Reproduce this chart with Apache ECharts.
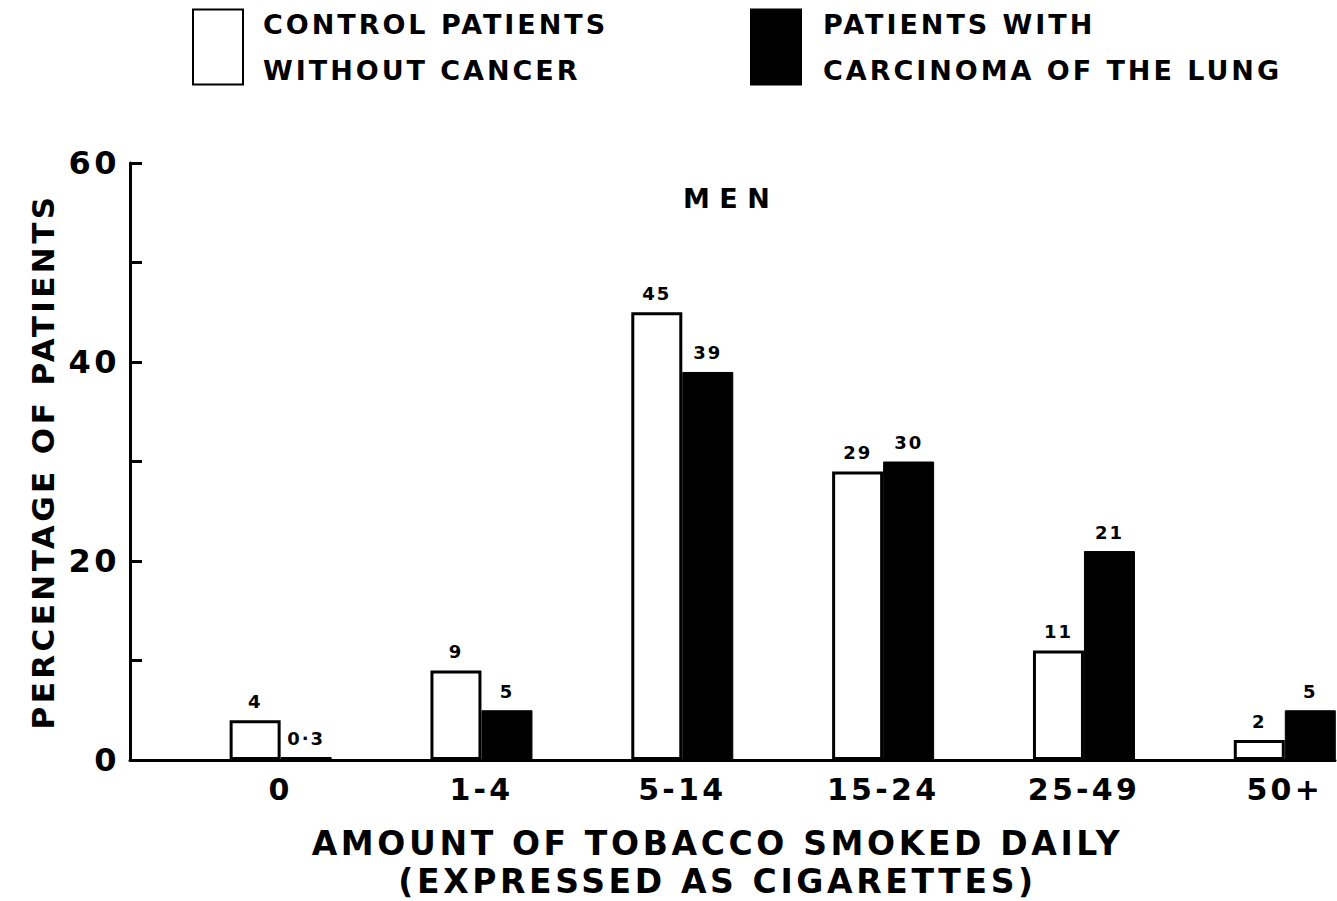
<!DOCTYPE html>
<html>
<head>
<meta charset="utf-8">
<script src="https://cdn.jsdelivr.net/npm/echarts@6/dist/echarts.min.js"></script>
<style>
html,body{margin:0;padding:0;background:#fff;}
#chart{width:1337px;height:901px;}
#chart svg text{letter-spacing:0.11em;}
</style>
</head>
<body>
<div id="chart"></div>
<script>
// Data
const categories = ['0', '1-4', '5-14', '15-24', '25-49', '50+'];
const controlValues = [4, 9, 45, 29, 11, 2];
const cancerValues = [0.3, 5, 39, 30, 21, 5];
const yTickLabels = {0: '0', 20: '20', 40: '40', 60: '60'};
const controlName = 'CONTROL PATIENTS\nWITHOUT CANCER';
const cancerName = 'PATIENTS WITH\nCARCINOMA OF THE LUNG';

const FONT = '"DejaVu Sans", sans-serif';
const chart = echarts.init(document.getElementById('chart'), null, {renderer: 'svg'});

const labelFmt = p => String(p.value[1]).replace('.', '·');

chart.setOption({
  animation: false,
  backgroundColor: '#fff',
  title: {
    text: 'MEN', left: 678, top: 180,
    textStyle: {fontFamily: FONT, fontSize: 27, fontWeight: 'bold', color: '#000'}
  },
  legend: [
    {
      data: [controlName], left: 187, top: -4,
      icon: 'rect', itemWidth: 50, itemHeight: 75,
      textStyle: {fontFamily: FONT, fontSize: 27, fontWeight: 'bold', color: '#000', lineHeight: 46, padding: [0, 0, 0, 15]}
    },
    {
      data: [cancerName], left: 745, top: -4,
      icon: 'rect', itemWidth: 50, itemHeight: 75,
      textStyle: {fontFamily: FONT, fontSize: 27, fontWeight: 'bold', color: '#000', lineHeight: 46, padding: [0, 0, 0, 17]}
    }
  ],
  grid: {left: 130, right: 2, top: 163, bottom: 141, containLabel: false, outerBoundsMode: 'none'},
  xAxis: {
    type: 'value', min: -0.75, max: 5.25, interval: 0.25,
    name: 'AMOUNT OF TOBACCO SMOKED DAILY\n(EXPRESSED AS CIGARETTES)',
    nameLocation: 'middle', nameGap: 64, nameMoveOverlap: false,
    nameTextStyle: {fontFamily: FONT, fontSize: 33, fontWeight: 'bold', color: '#000', lineHeight: 38, padding: [0, 30, 0, 0]},
    axisLine: {show: true, onZero: true, lineStyle: {color: '#000', width: 3}},
    axisTick: {show: false},
    splitLine: {show: false},
    axisLabel: {
      margin: 14, fontFamily: FONT, fontSize: 30, fontWeight: 'bold', color: '#000',
      formatter: v => (Number.isInteger(v) && categories[v] !== undefined) ? categories[v] : ''
    }
  },
  yAxis: {
    type: 'value', min: 0, max: 60, interval: 10,
    name: 'PERCENTAGE OF PATIENTS',
    nameLocation: 'middle', nameRotate: 90, nameGap: 72, nameMoveOverlap: false,
    nameTextStyle: {fontFamily: FONT, fontSize: 31, fontWeight: 'bold', color: '#000'},
    axisLine: {show: true, onZero: false, lineStyle: {color: '#000', width: 3}},
    axisTick: {show: true, inside: true, length: 12, lineStyle: {color: '#000', width: 3}},
    splitLine: {show: false},
    axisLabel: {
      margin: 10, fontFamily: FONT, fontSize: 32, fontWeight: 'bold', color: '#000',
      formatter: v => yTickLabels[v] !== undefined ? yTickLabels[v] : ''
    }
  },
  series: [
    {
      name: controlName, type: 'bar', barWidth: 51, barGap: '0%',
      data: controlValues.map((v, i) => [i, v]),
      itemStyle: {color: '#fff', borderColor: '#000', borderWidth: 3},
      label: {show: true, position: 'top', distance: 10, fontFamily: FONT, fontSize: 18, fontWeight: 'bold', color: '#000', formatter: labelFmt}
    },
    {
      name: cancerName, type: 'bar', barWidth: 51, barGap: '0%',
      data: cancerValues.map((v, i) => [i, v]),
      itemStyle: {color: '#000', borderColor: '#000', borderWidth: 1},
      label: {show: true, position: 'top', distance: 10, fontFamily: FONT, fontSize: 18, fontWeight: 'bold', color: '#000', formatter: labelFmt}
    }
  ]
});

// wider tracking for the panel title, as in the original
document.querySelectorAll('#chart svg text').forEach(t => {
  if (t.textContent === 'MEN') t.style.letterSpacing = '0.35em';
});
</script>
</body>
</html>
